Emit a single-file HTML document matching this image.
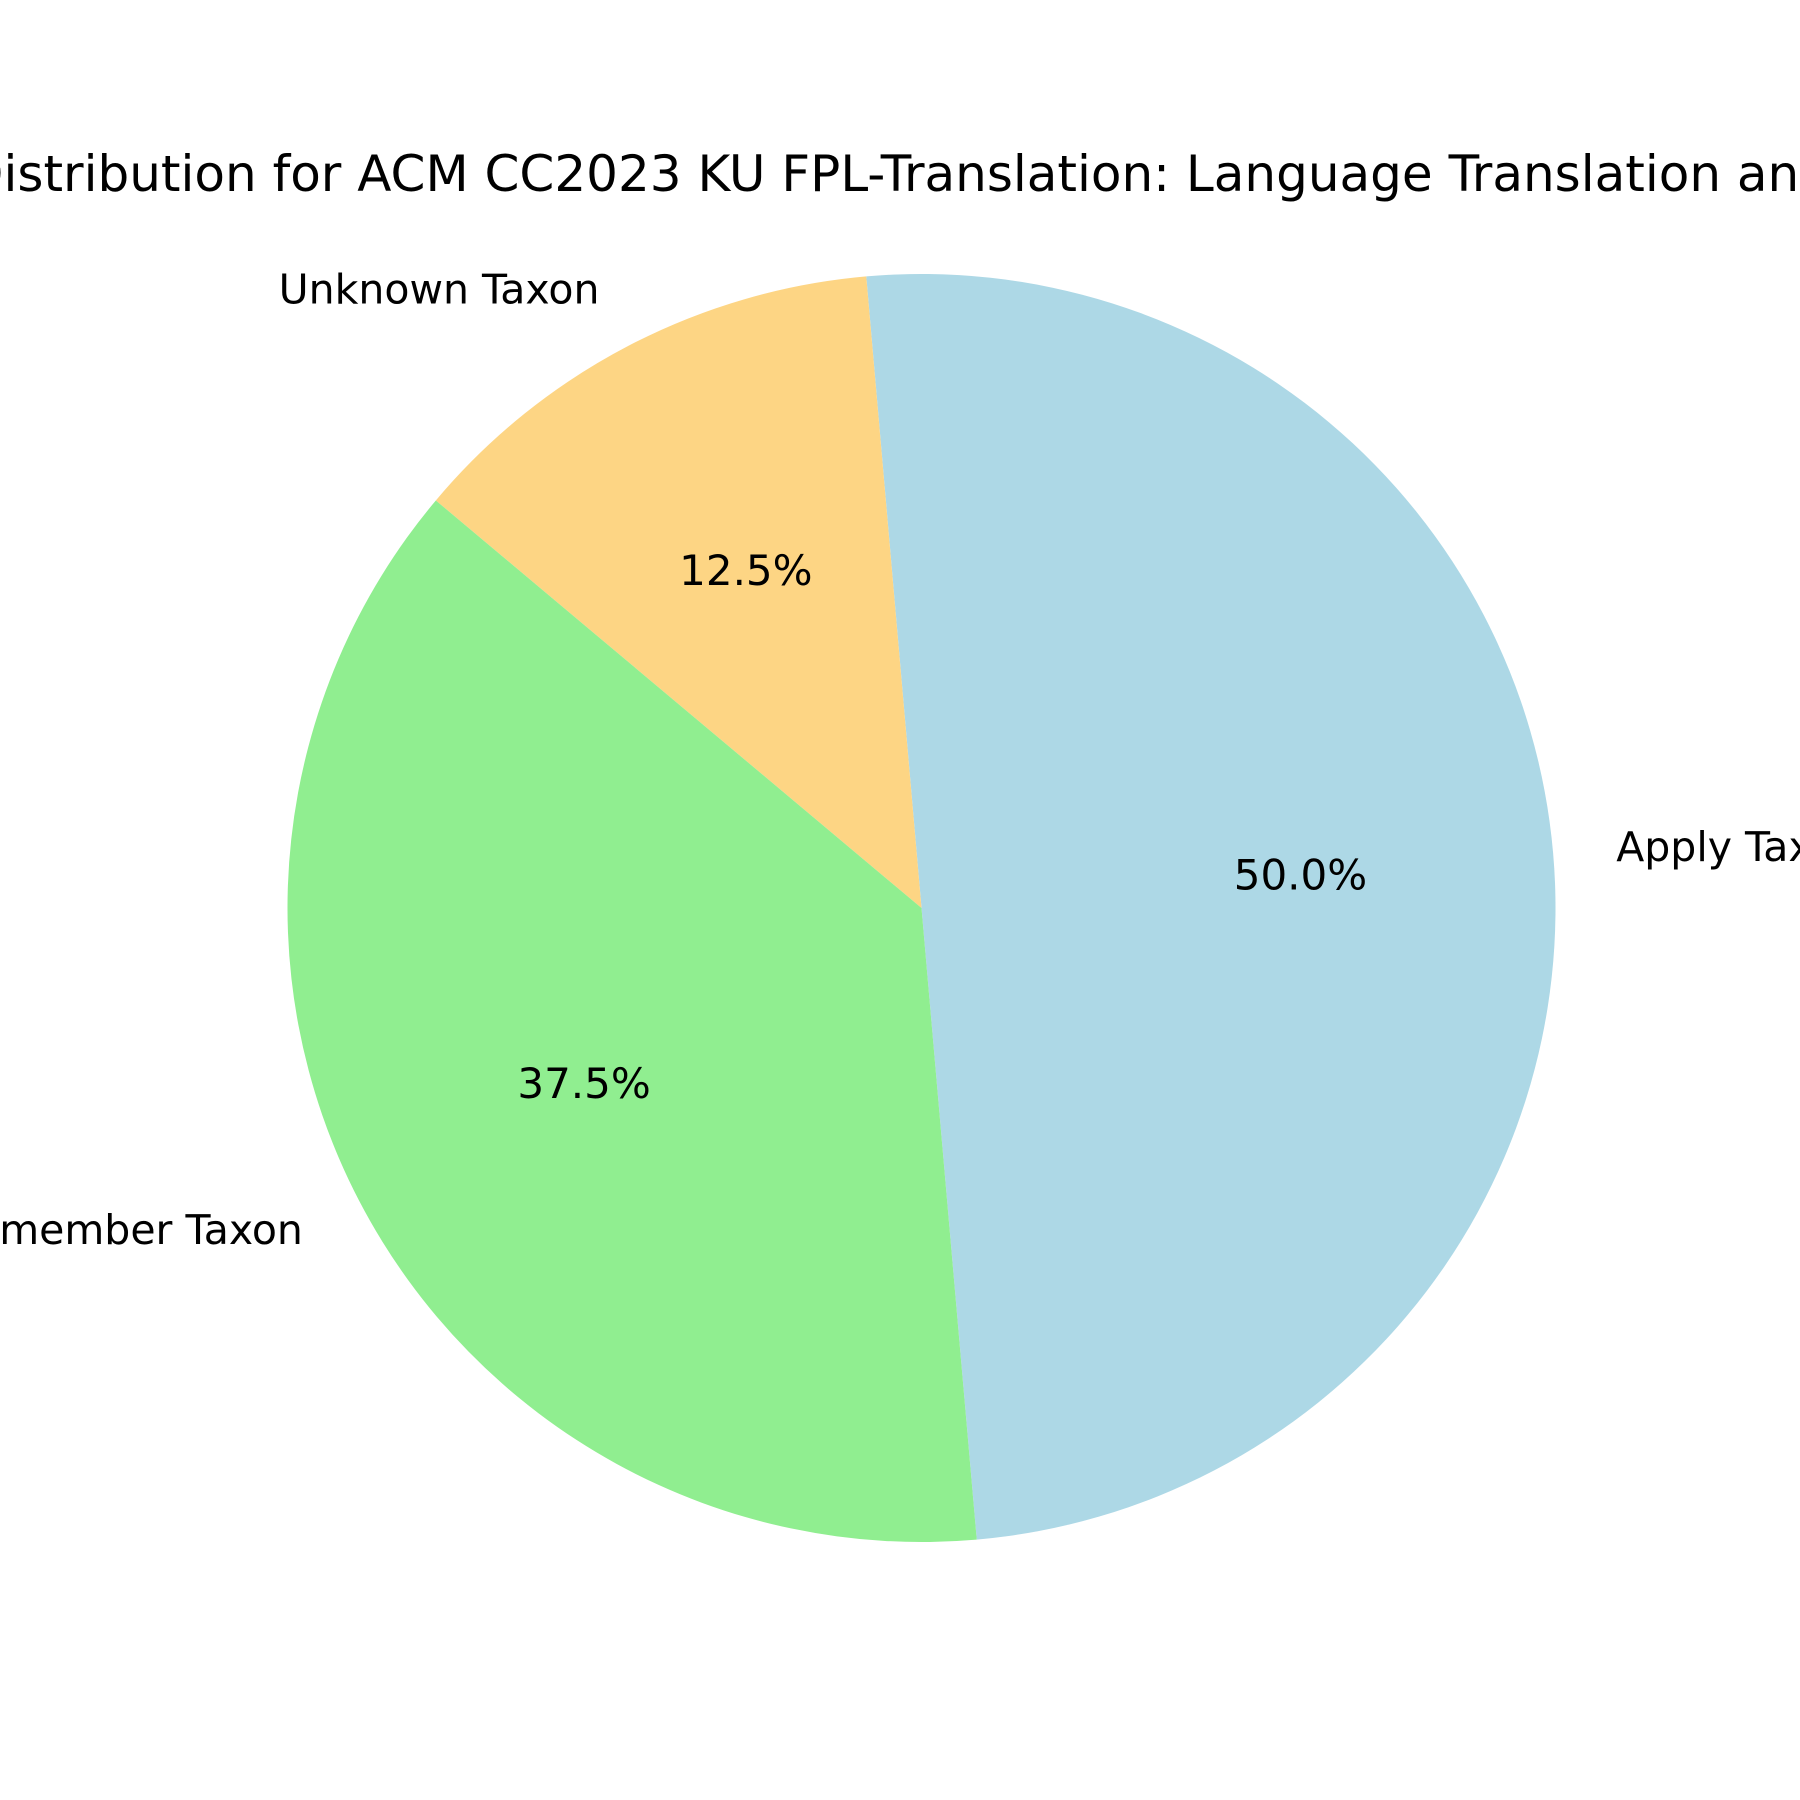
<!DOCTYPE html>
<html><head><meta charset="utf-8"><style>
html,body{margin:0;padding:0;background:#fff;width:1800px;height:1800px;overflow:hidden}
svg{display:block}
text{font-family:"DejaVu Sans","Liberation Sans",sans-serif;fill:#000}
</style></head><body>
<svg id="chart" width="1800" height="1800" viewBox="0 0 1800 1800">
<text x="-35" y="191" font-size="50">Distribution for ACM CC2023 KU FPL-Translation: Language Translation and Analysis</text>
<g id="slices"></g>
</svg>
<script>
const categories = ["Apply Taxon", "Unknown Taxon", "Remember Taxon"];
const values = [50.0, 12.5, 37.5];
const colors = ["#add8e6", "#fdd584", "#90ee90"];
const pctLabels = ["50.0%", "12.5%", "37.5%"];
const startAngle = -85;

const cx = 921.5, cy = 908, r = 634;
const svg = document.getElementById('slices');
const NS = "http://www.w3.org/2000/svg";
const total = values.reduce((a,b)=>a+b,0);
function pt(angDeg, rad){const a=angDeg*Math.PI/180;return [cx+rad*Math.cos(a), cy-rad*Math.sin(a)];}
let ang = startAngle;
values.forEach((v,i)=>{
  const sweep = v/total*360;
  const a0 = ang, a1 = ang+sweep;
  const p0 = pt(a0,r), p1 = pt(a1,r);
  const large = sweep>180?1:0;
  const path = document.createElementNS(NS,'path');
  path.setAttribute('d',`M${cx},${cy} L${p0[0]},${p0[1]} A${r},${r} 0 ${large} 0 ${p1[0]},${p1[1]} Z`);
  path.setAttribute('fill',colors[i]);
  
  
  svg.appendChild(path);
  const mid = (a0+a1)/2;
  const lp = pt(mid, r*1.1);
  const cosm = Math.cos(mid*Math.PI/180);
  const lab = document.createElementNS(NS,'text');
  lab.setAttribute('x',lp[0]); lab.setAttribute('y',lp[1]);
  lab.setAttribute('font-size','41');
  lab.setAttribute('dominant-baseline','central');
  lab.setAttribute('text-anchor', cosm>=0?'start':'end');
  lab.textContent = categories[i];
  
  
  svg.appendChild(lab);
  const pp = pt(mid, r*0.6);
  const pl = document.createElementNS(NS,'text');
  pl.setAttribute('x',pp[0]); pl.setAttribute('y',pp[1]);
  pl.setAttribute('font-size','42');
  pl.setAttribute('dominant-baseline','central');
  pl.setAttribute('text-anchor','middle');
  pl.textContent = pctLabels[i];
  
  
  svg.appendChild(pl);
  ang = a1;
});
</script>
</body></html>
